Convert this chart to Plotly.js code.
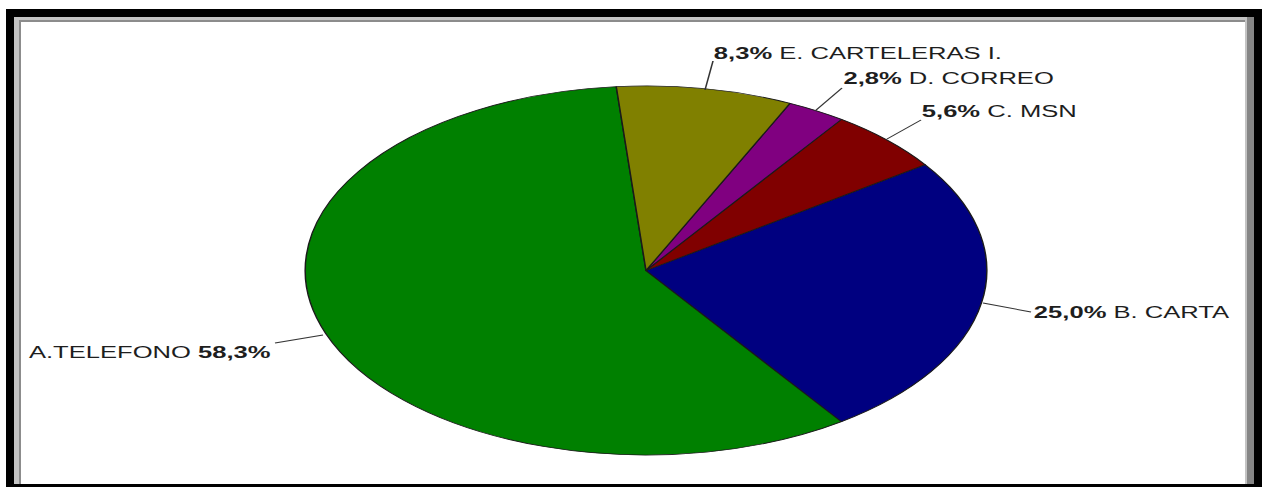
<!DOCTYPE html>
<html><head><meta charset="utf-8">
<script src="https://cdn.plot.ly/plotly-3.0.1.min.js"></script>
<style>
html,body{margin:0;padding:0;background:#fff;width:1269px;height:487px;overflow:hidden;position:relative}
.box{position:absolute}
#pie,#txt{position:absolute;left:0;top:0;transform-origin:0 0}
</style></head><body>
<div class="box" style="left:6px;top:9px;width:1256px;height:478px;background:#000"></div>
<div class="box" style="left:14px;top:17px;width:1233px;height:467px;background:#c4c4c4"></div>
<div class="box" style="left:1247px;top:17px;width:7px;height:467px;background:#858585"></div>
<div class="box" style="left:19px;top:20px;width:1226px;height:464px;background:#8c8c8c"></div>
<div class="box" style="left:21px;top:22px;width:1224px;height:462px;background:#fff"></div>
<div id="pie"></div>
<div id="txt"></div>
<script>
// ---- data ----
const categories = ['A.TELEFONO', 'B. CARTA', 'C. MSN', 'D. CORREO', 'E. CARTELERAS I.'];
const counts = [21, 9, 2, 1, 3];
const sliceColors = ['#008000', '#000080', '#800000', '#800080', '#808000'];

// ---- layout config (screen pixels) ----
const SW = 1269, SH = 487;
const labelPos = [ // left x, centre y of each label
  [28, 352], [1033, 312], [921, 112], [843, 78], [713, 53]
];
const leaderLines = [ // from label to slice edge
  [275, 343, 323, 335], [1031, 312, 983, 303], [921, 120, 887, 139], [842, 88, 815, 111], [713, 61, 705, 90]
];

const total = counts.reduce((a, b) => a + b, 0);
const pctText = counts.map(c => (c / total * 100).toFixed(1).replace('.', ',') + '%');
const labelText = categories.map((name, i) =>
  i === 0 ? name + ' <b>' + pctText[i] + '</b>' : '<b>' + pctText[i] + '</b> ' + name);

const px = x => x / SW;
const py = y => 1 - y / SH;

// ---- pie layer (stretched horizontally to an ellipse) ----
const PW = 687, pScale = SW / PW;
const pieDiv = document.getElementById('pie');
pieDiv.style.transform = 'scaleX(' + pScale + ')';
const cx = 646, cy = 270.5, r = 184.5;
Plotly.newPlot(pieDiv, [{
  type: 'pie',
  labels: categories,
  values: counts,
  sort: false,
  direction: 'counterclockwise',
  rotation: 145,
  textinfo: 'none',
  hoverinfo: 'none',
  marker: { colors: sliceColors, line: { color: '#1a1a1a', width: 0.8 } },
  domain: { x: [px(cx) - 0.35, px(cx) + 0.35], y: [py(cy) - r / SH, py(cy) + r / SH] }
}], {
  width: PW, height: SH,
  margin: { l: 0, r: 0, t: 0, b: 0 },
  paper_bgcolor: 'rgba(0,0,0,0)', plot_bgcolor: 'rgba(0,0,0,0)',
  showlegend: false
}, { staticPlot: true, displayModeBar: false });

// ---- label layer ----
const TW = 793, tScale = SW / TW;
const txtDiv = document.getElementById('txt');
txtDiv.style.transform = 'scaleX(' + tScale + ')';
const annotations = labelText.map((t, i) => ({
  xref: 'paper', yref: 'paper',
  x: px(labelPos[i][0] - 3), y: py(labelPos[i][1]),
  xanchor: 'left', yanchor: 'middle',
  text: t, showarrow: false,
  font: { family: 'Liberation Sans, Arial, sans-serif', size: 16, color: '#1e1e1e' }
}));
const shapes = leaderLines.map(l => ({
  type: 'line', xref: 'paper', yref: 'paper',
  x0: px(l[0]), y0: py(l[1]), x1: px(l[2]), y1: py(l[3]),
  line: { color: '#333', width: 1 }
}));
Plotly.newPlot(txtDiv, [], {
  width: TW, height: SH,
  margin: { l: 0, r: 0, t: 0, b: 0 },
  paper_bgcolor: 'rgba(0,0,0,0)', plot_bgcolor: 'rgba(0,0,0,0)',
  xaxis: { visible: false }, yaxis: { visible: false },
  showlegend: false,
  annotations: annotations, shapes: shapes
}, { staticPlot: true, displayModeBar: false });
</script>
</body></html>
